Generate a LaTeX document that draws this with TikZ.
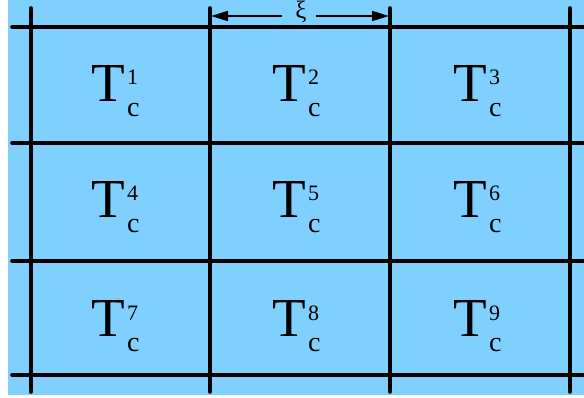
\documentclass[tikz,border=0pt]{standalone}
\usepackage{fontspec}
\setmainfont{Liberation Serif}
\usetikzlibrary{arrows.meta}
\definecolor{skyfill}{RGB}{128,208,255}
\newcommand\Tlab[1]{\fontsize{55}{55}\selectfont T\kern2.5pt\makebox[0pt][l]{\raisebox{17pt}{\fontsize{22}{22}\selectfont #1}}\raisebox{-15pt}{\fontsize{28}{28}\selectfont c}}
\begin{document}
\begin{tikzpicture}[x=1pt,y=-1pt,
  gridline/.style={line width=3.6pt,line cap=round},
  dimarrow/.style={line width=1.6pt,-{Triangle[length=17pt,width=10pt]}},
  celllabel/.style={anchor=base west,inner sep=0pt,outer sep=0pt}]
\useasboundingbox (0,0) rectangle (584,398);
\fill[skyfill] (8,0) rectangle (584,395);
% vertical lines
\foreach \x [count=\i] in {31,210,390,570}{
  \coordinate (vt\i) at (\x,8);
  \coordinate (vb\i) at (\x,392);
  \draw[gridline] (vt\i) -- (vb\i);
}
% horizontal lines
\foreach \y [count=\i] in {27,143,261,375}{
  \coordinate (hl\i) at (12,\y);
  \coordinate (hr\i) at (590,\y);
  \draw[gridline] (hl\i) -- (hr\i);
}
% labels
\foreach \r/\yy in {0/102,1/218,2/337}{
  \foreach \c/\xx in {1/91,2/272,3/453}{
    \pgfmathtruncatemacro\k{3*\r+\c}
    \node[celllabel] (t\k) at (\xx,\yy) {\Tlab{\k}};
  }
}
% xi dimension
\node[font=\fontsize{25}{25}\selectfont,inner sep=0pt,anchor=base] (xi) at (301,19) {ξ};
\coordinate (al) at (282,16);
\coordinate (ar) at (316,16);
\coordinate (tl) at (211,16);
\coordinate (tr) at (389,16);
\draw[dimarrow] (al) -- (tl);
\draw[dimarrow] (ar) -- (tr);
\end{tikzpicture}
\end{document}
